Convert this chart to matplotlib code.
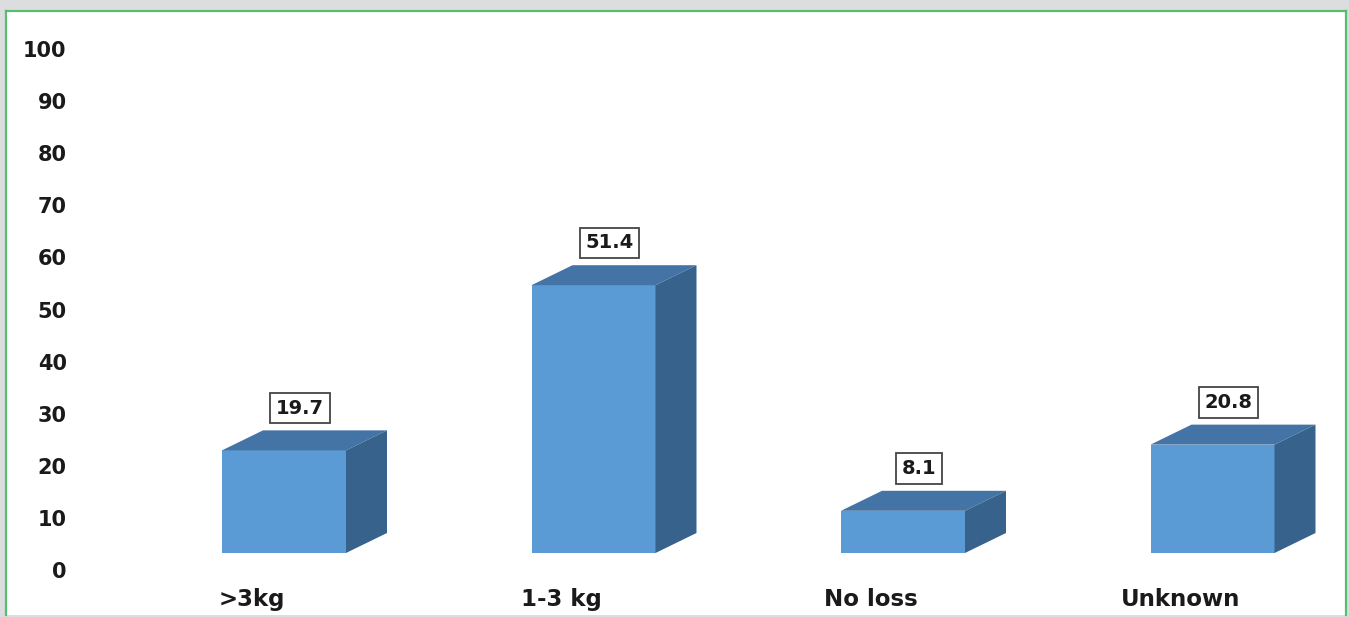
import matplotlib
matplotlib.use("Agg")
import matplotlib.pyplot as plt
from matplotlib.patches import Polygon, Rectangle
from matplotlib.lines import Line2D

# ---- data ----
categories = [">3kg", "1-3 kg", "No loss", "Unknown"]
values = [19.7, 51.4, 8.1, 20.8]
yticks = [0, 10, 20, 30, 40, 50, 60, 70, 80, 90, 100]

# ---- style ----
W, H = 1349, 617
front_c = "#5B9BD5"
top_c = "#4474A6"
side_c = "#37628B"
green = "#55BF70"
bg = "#DCDDDF"

fig = plt.figure(figsize=(W / 100, H / 100), dpi=100, facecolor=bg)

# white panel with green frame
fig.patches.append(Rectangle((6 / W, 2 / H), (1346 - 6) / W, (615 - 11) / H,
                             transform=fig.transFigure, facecolor="white",
                             edgecolor="none", zorder=-5))
for xs, ys in [([6, 6], [11, 615]), ([6, 1346], [11, 11]), ([1346, 1346], [11, 615])]:
    fig.lines.append(Line2D([x / W for x in xs], [1 - y / H for y in ys],
                            transform=fig.transFigure, color=green, lw=1.6, zorder=-4))

# axes: y=0 at pixel row 570, top at row 20 ; x from px 75 to 1340
left_px, right_px, top_px, bot_px = 75, 1340, 20, 570
ax = fig.add_axes([left_px / W, (H - bot_px) / H, (right_px - left_px) / W, (bot_px - top_px) / H])
ax.set_facecolor("none")
px_per_unit = 5.21
ax.set_ylim(0, (bot_px - top_px) / px_per_unit)
spacing = 309.5
x0_px = 284
ax.set_xlim((left_px - x0_px) / spacing, (right_px - x0_px) / spacing)
for s in ax.spines.values():
    s.set_visible(False)

width = 124 / spacing
dx = 41 / spacing
dy = 20 / px_per_unit
base = 17 / px_per_unit

xs = list(range(len(categories)))
ax.bar(xs, values, bottom=base, width=width, color=front_c, zorder=3)
for x, v in zip(xs, values):
    l, r = x - width / 2, x + width / 2
    t = base + v
    ax.add_patch(Polygon([(l, t), (r, t), (r + dx, t + dy), (l + dx, t + dy)],
                         closed=True, facecolor=top_c, edgecolor="none", zorder=3))
    ax.add_patch(Polygon([(r, base), (r + dx, base + dy), (r + dx, t + dy), (r, t)],
                         closed=True, facecolor=side_c, edgecolor="none", zorder=3))
    ax.annotate(f"{v}", xy=(x + 16 / spacing, t + dy), xytext=(0, 16),
                textcoords="offset points", ha="center", va="center",
                fontsize=14, fontweight="bold", color="#1a1a1a",
                bbox=dict(boxstyle="square,pad=0.3", facecolor="white",
                          edgecolor="#444444", lw=1.3), zorder=5)

ax.set_yticks(yticks)
ax.set_yticklabels([str(t) for t in yticks], fontsize=15, fontweight="bold", color="#1a1a1a")
ax.tick_params(axis="y", length=0, pad=6)

ax.set_xticks([x - 32 / spacing for x in xs])
ax.set_xticklabels(categories, fontsize=16.5, fontweight="bold", color="#1a1a1a")
ax.tick_params(axis="x", length=0, pad=13)

fig.savefig("out.png", dpi=100, facecolor=bg)
